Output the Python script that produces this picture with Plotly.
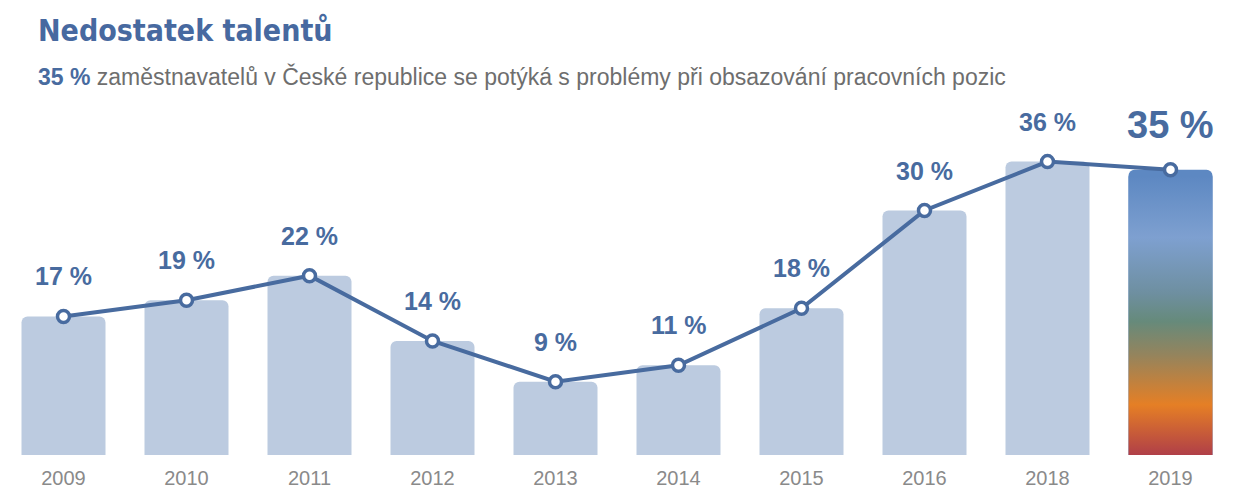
import plotly.graph_objects as go

years = ["2009", "2010", "2011", "2012", "2013", "2014", "2015", "2016", "2018", "2019"]
values = [17, 19, 22, 14, 9, 11, 18, 30, 36, 35]
label_texts = [f"{v} %" for v in values]

title_text = "Nedostatek talentů"
subtitle_bold = "35 %"
subtitle_rest = " zaměstnavatelů v České republice se potýká s problémy při obsazování pracovních pozic"

BLUE = "#486b9f"
BAR = "#bccbe0"
GRAD_TOP = "#5d88c2"
gradient_scale = [
    [0.0, "#b03f48"],
    [0.18, "#e57f25"],
    [0.36, "#94845d"],
    [0.48, "#668a7b"],
    [0.58, "#6e8fa0"],
    [0.78, "#7ea0d0"],
    [1.0, GRAD_TOP],
]

x = list(range(len(years)))
W = 0.683
last = len(values) - 1

bar_colors = [BAR] * len(values)
bar_colors[last] = GRAD_TOP

fig = go.Figure()
fig.add_trace(go.Bar(
    x=x, y=values, width=W,
    marker=dict(color=bar_colors, line=dict(width=0), cornerradius=6),
    hoverinfo="skip",
))

# gradient fill for last bar (kept below the rounded top)
xl = x[last] - W / 2
xr = x[last] + W / 2
top = values[last] - 0.8
fig.add_trace(go.Scatter(
    x=[xl, xl, xr, xr, xl], y=[0, top, top, 0, 0],
    mode="lines", line=dict(width=0), fill="toself",
    fillgradient=dict(type="vertical", colorscale=gradient_scale),
    hoverinfo="skip",
))

fig.add_trace(go.Scatter(
    x=x, y=values, mode="lines+markers",
    line=dict(color=BLUE, width=4),
    marker=dict(size=12, color="white", line=dict(color=BLUE, width=3.5)),
    hoverinfo="skip",
))

for i, (v, t) in enumerate(zip(values, label_texts)):
    big = i == last
    fig.add_annotation(
        x=x[i], y=v, text=f"<b>{t}</b>", showarrow=False,
        yanchor="bottom", yshift=22 if big else 24,
        font=dict(family="Liberation Sans, Arial", size=38 if big else 25, color=BLUE),
    )

fig.add_annotation(
    xref="paper", yref="paper", x=(36 - 2) / 1230, y=(455 - 30) / 355,
    xanchor="left", yanchor="middle", showarrow=False,
    text=f"<b>{title_text}</b>",
    font=dict(family="DejaVu Sans Condensed", size=30, color="#4769a0"),
)
fig.add_annotation(
    xref="paper", yref="paper", x=(36 - 2) / 1230, y=(455 - 76) / 355,
    xanchor="left", yanchor="middle", showarrow=False,
    text=f"<b><span style='color:{BLUE}'>{subtitle_bold}</span></b>{subtitle_rest}",
    font=dict(family="Liberation Sans, Arial", size=23, color="#6e6e6e"),
)

fig.update_layout(
    width=1237, height=500,
    margin=dict(l=2, r=5, t=100, b=45),
    paper_bgcolor="white", plot_bgcolor="white",
    showlegend=False,
    xaxis=dict(range=[-0.5, 9.5], tickvals=x, ticktext=years, showgrid=False,
               zeroline=False, showline=False, ticks="", ticklabelstandoff=9,
               tickfont=dict(family="Liberation Sans, Arial", size=20, color="#8a8a8a")),
    yaxis=dict(range=[0, 43.56], visible=False, showgrid=False, zeroline=False),
)

fig.write_html("out.html", config={"displayModeBar": False},
               post_script="document.body.style.margin='0px';document.body.style.padding='0px';")
